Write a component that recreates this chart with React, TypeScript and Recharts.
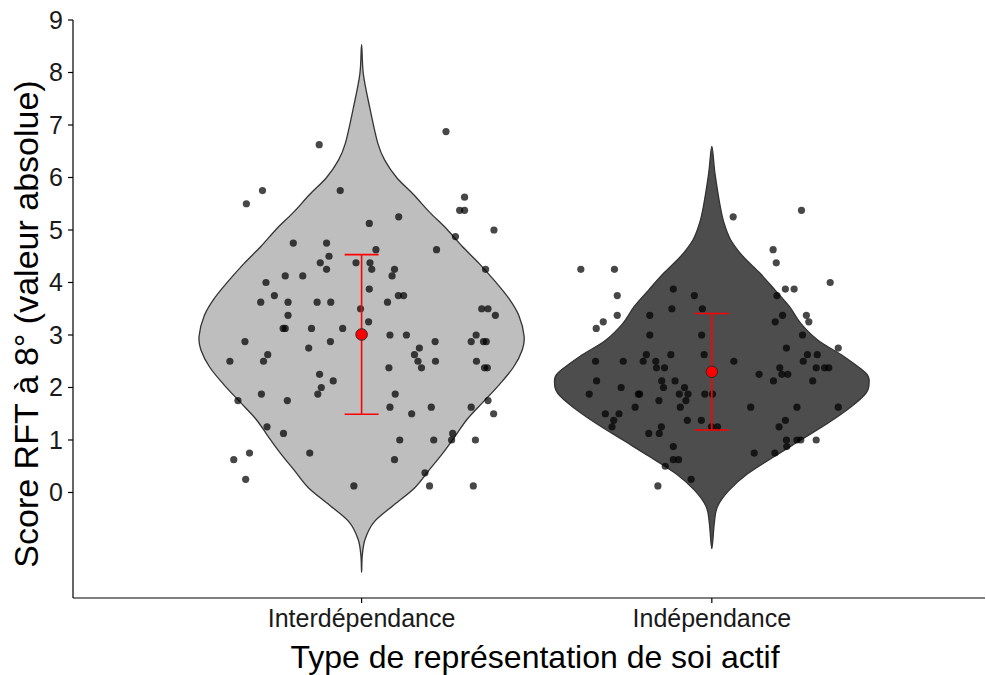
import { ComposedChart, Label, Scatter, XAxis, YAxis } from "recharts";

const categories = ["Interdépendance", "Indépendance"];
const yTicks = [0, 1, 2, 3, 4, 5, 6, 7, 8, 9];

// violin outlines: score levels (top -> bottom) and half width in x units
const interViolinY = [8.53, 7.97, 7.31, 6.66, 6.33, 6.0, 5.67, 5.34, 5.02, 4.69, 4.36, 4.03, 3.7, 3.37, 2.98, 2.72, 2.39, 2.06, 1.73, 1.4, 1.08, 0.75, 0.42, 0.09, -0.24, -0.56, -0.89, -1.2, -1.52];
const interViolinHalf = [0, 0.005, 0.024, 0.046, 0.066, 0.1, 0.149, 0.194, 0.243, 0.287, 0.336, 0.38, 0.42, 0.449, 0.464, 0.459, 0.434, 0.394, 0.348, 0.302, 0.268, 0.232, 0.192, 0.152, 0.092, 0.036, 0.01, 0.002, 0];
const indepViolinY = [6.59, 6.08, 5.45, 5.13, 4.81, 4.49, 4.18, 3.86, 3.54, 3.22, 2.9, 2.59, 2.27, 2.08, 1.89, 1.63, 1.32, 1.0, 0.68, 0.36, 0.04, -0.27, -0.59, -1.07];
const indepViolinHalf = [0, 0.009, 0.024, 0.035, 0.054, 0.09, 0.137, 0.18, 0.222, 0.254, 0.303, 0.377, 0.44, 0.449, 0.44, 0.397, 0.331, 0.254, 0.177, 0.103, 0.049, 0.016, 0.007, 0];

// jittered observations [x position, score]
const interPoints: [number, number][] = [
  [0.879, 6.625], [1.241, 6.875], [0.717, 5.75], [0.671, 5.5], [0.939, 5.75], [1.294, 5.625], [1.28, 5.375], [1.294, 5.375],
  [1.022, 5.125], [1.106, 5.25], [1.378, 5.0], [1.268, 4.875], [0.805, 4.75], [0.9, 4.75], [1.041, 4.625], [1.214, 4.625],
  [0.907, 4.5], [0.882, 4.375], [0.984, 4.375], [1.024, 4.375], [1.029, 4.25], [1.094, 4.25], [1.087, 4.125], [0.9, 4.25],
  [0.727, 4.0], [0.782, 4.125], [0.832, 4.125], [1.354, 4.25], [1.022, 3.875], [0.751, 3.75], [0.712, 3.625], [0.79, 3.625],
  [0.873, 3.625], [0.912, 3.625], [1.074, 3.625], [1.105, 3.75], [1.12, 3.75], [0.997, 3.5], [1.343, 3.5], [1.361, 3.5],
  [1.382, 3.375], [0.79, 3.375], [0.776, 3.125], [0.782, 3.125], [0.857, 3.125], [0.946, 3.125], [1.02, 3.25], [1.081, 3.0],
  [1.128, 3.0], [0.667, 2.875], [0.911, 2.875], [0.849, 2.75], [1.21, 2.875], [1.313, 2.875], [1.327, 3.0], [1.348, 2.875],
  [1.356, 2.875], [1.165, 2.75], [1.151, 2.625], [1.161, 2.5], [1.171, 2.375], [1.211, 2.5], [1.328, 2.5], [1.351, 2.375],
  [1.359, 2.375], [0.624, 2.5], [0.732, 2.625], [0.72, 2.5], [1.078, 2.375], [0.88, 2.25], [0.919, 2.125], [0.885, 2.0],
  [0.875, 1.875], [0.714, 1.875], [0.788, 1.75], [0.647, 1.75], [1.096, 1.875], [1.081, 1.625], [1.143, 1.5], [1.199, 1.625],
  [1.313, 1.625], [1.361, 1.75], [1.377, 1.5], [0.73, 1.25], [0.777, 1.125], [1.109, 1.0], [1.206, 1.0], [1.26, 1.125],
  [1.257, 1.0], [1.325, 1.0], [0.68, 0.75], [0.635, 0.625], [0.852, 0.75], [1.094, 0.625], [0.669, 0.25], [0.978, 0.125],
  [1.181, 0.375], [1.194, 0.125], [1.319, 0.125],
];
const indepPoints: [number, number][] = [
  [2.061, 5.25], [2.256, 5.375], [2.175, 4.625], [2.184, 4.375], [1.626, 4.25], [1.722, 4.25], [1.73, 3.75], [1.73, 3.375],
  [1.69, 3.25], [1.67, 3.125], [1.89, 3.875], [1.95, 3.75], [1.886, 3.5], [1.973, 3.5], [1.823, 3.375], [2.21, 3.875],
  [2.235, 3.875], [2.338, 4.0], [2.186, 3.75], [2.202, 3.375], [2.181, 3.25], [2.27, 3.375], [2.277, 3.25], [1.823, 3.0],
  [1.971, 3.0], [2.259, 3.0], [2.361, 2.75], [2.213, 2.75], [1.813, 2.625], [1.883, 2.625], [1.978, 2.625], [2.273, 2.625],
  [2.301, 2.625], [1.668, 2.5], [1.747, 2.5], [1.804, 2.5], [1.84, 2.5], [2.063, 2.5], [2.261, 2.5], [1.842, 2.375],
  [1.865, 2.375], [2.194, 2.375], [2.298, 2.375], [2.322, 2.375], [2.334, 2.375], [2.135, 2.25], [2.2, 2.25], [2.217, 2.25],
  [1.671, 2.125], [1.857, 2.125], [1.895, 2.125], [2.176, 2.125], [2.288, 2.125], [1.741, 2.0], [1.862, 2.0], [1.922, 2.0],
  [1.65, 1.875], [1.79, 1.875], [1.794, 1.875], [1.907, 1.875], [1.932, 1.875], [1.98, 1.875], [2.002, 1.875], [1.849, 1.75],
  [1.926, 1.75], [1.781, 1.625], [1.91, 1.625], [2.111, 1.625], [2.243, 1.625], [2.361, 1.625], [1.696, 1.5], [1.735, 1.5],
  [1.72, 1.375], [1.715, 1.25], [1.93, 1.375], [1.97, 1.375], [2.21, 1.375], [1.856, 1.25], [2.192, 1.25], [1.999, 1.25],
  [2.016, 1.25], [1.82, 1.125], [1.85, 1.125], [2.213, 1.0], [2.243, 1.0], [2.254, 1.0], [2.298, 1.0], [2.214, 0.875],
  [1.89, 0.875], [2.121, 0.75], [2.18, 0.75], [1.89, 0.625], [1.905, 0.625], [1.867, 0.5], [1.941, 0.25], [1.846, 0.125],
];

const groupMeans = [3.01, 2.3];
const groupErrors = [1.52, 1.11];

const font = "'Liberation Sans', Arial, Helvetica, sans-serif";

function violinOutline(center: number, ys: number[], halves: number[]) {
  const right = ys.map((y, i) => ({ x: center + halves[i], y }));
  const left = ys.slice(1, -1).map((y, i) => ({ x: center - halves[i + 1], y })).reverse();
  return [...right, ...left];
}

// closed catmull-rom through the projected outline points
function smoothClosed(pts: { x: number; y: number }[]) {
  const n = pts.length;
  if (!n) return "";
  let d = `M${pts[0].x},${pts[0].y}`;
  for (let i = 0; i < n; i++) {
    const p0 = pts[(i - 1 + n) % n];
    const p1 = pts[i];
    const p2 = pts[(i + 1) % n];
    const p3 = pts[(i + 2) % n];
    const c1x = p1.x + (p2.x - p0.x) / 6;
    const c1y = p1.y + (p2.y - p0.y) / 6;
    const c2x = p2.x - (p3.x - p1.x) / 6;
    const c2y = p2.y - (p3.y - p1.y) / 6;
    d += ` C${c1x},${c1y} ${c2x},${c2y} ${p2.x},${p2.y}`;
  }
  return d + " Z";
}

const violinLine = (fill: string) => (props: any) => (
  <path d={smoothClosed(props.points || [])} fill={fill} stroke="#333333" strokeWidth={1.3} />
);

const whiskerLine = (props: any) => {
  const pts = props.points || [];
  if (pts.length < 2) return <g />;
  return <line x1={pts[0].x} y1={pts[0].y} x2={pts[1].x} y2={pts[1].y} stroke="#FF0000" strokeWidth={1.6} />;
};

const NoShape = () => <g />;

const Dot = (props: any) => (
  <circle cx={props.cx} cy={props.cy} r={3.6} fill="#000000" fillOpacity={0.72} />
);

const Cap = (props: any) => (
  <line x1={props.cx - 17} x2={props.cx + 17} y1={props.cy} y2={props.cy} stroke="#FF0000" strokeWidth={1.6} />
);

const MeanDot = (props: any) => (
  <circle cx={props.cx} cy={props.cy} r={5.8} fill="#FF0000" stroke="#2b2b2b" strokeWidth={1} />
);

function YTitle({ viewBox }: any) {
  const x = viewBox.x + 38;
  const y = viewBox.y + viewBox.height / 2 + 15;
  return (
    <text x={x} y={y} transform={`rotate(-90 ${x} ${y})`} textAnchor="middle" fontSize={34} fill="#000" fontFamily={font}>
      Score RFT à 8° (valeur absolue)
    </text>
  );
}

function XTitle({ viewBox }: any) {
  const x = viewBox.x + viewBox.width / 2 + 6;
  return (
    <text x={x} y={668} textAnchor="middle" fontSize={32} fill="#000" fontFamily={font}>
      Type de représentation de soi actif
    </text>
  );
}

export default function App() {
  const interOutline = violinOutline(1, interViolinY, interViolinHalf);
  const indepOutline = violinOutline(2, indepViolinY, indepViolinHalf);
  const interData = interPoints.map(([x, y]) => ({ x, y }));
  const indepData = indepPoints.map(([x, y]) => ({ x, y }));
  const meanData = groupMeans.map((m, i) => ({ x: i + 1, y: m }));
  const whiskers = groupMeans.map((m, i) => [
    { x: i + 1, y: m - groupErrors[i] },
    { x: i + 1, y: m + groupErrors[i] },
  ]);

  return (
    <div style={{ position: "absolute", left: 0, top: 0, width: 986, height: 675, background: "#fff" }}>
      <ComposedChart width={986} height={675} margin={{ top: 20, right: 1, bottom: 0, left: 0 }} style={{ fontFamily: font }}>
        <XAxis
          type="number"
          dataKey="x"
          domain={[0.176, 2.78]}
          allowDataOverflow
          ticks={[1, 2]}
          interval={0}
          tickFormatter={(v: number) => categories[v - 1]}
          height={77}
          tickSize={5}
          tickMargin={6}
          axisLine={{ stroke: "#000", strokeWidth: 1.2 }}
          tickLine={{ stroke: "#000", strokeWidth: 1.2 }}
          tick={{ fill: "#1a1a1a", fontSize: 25, fontFamily: font }}
          label={<Label content={XTitle} />}
        />
        <YAxis
          type="number"
          dataKey="y"
          domain={[-2.01, 9]}
          allowDataOverflow
          ticks={yTicks}
          interval={0}
          width={73}
          tickSize={5}
          tickMargin={5}
          axisLine={{ stroke: "#000", strokeWidth: 1.2 }}
          tickLine={{ stroke: "#000", strokeWidth: 1.2 }}
          tick={{ fill: "#1a1a1a", fontSize: 25, fontFamily: font }}
          label={<Label content={YTitle} />}
        />
        <Scatter data={interOutline} line={violinLine("#BEBEBE")} lineType="joint" shape={NoShape} isAnimationActive={false} />
        <Scatter data={indepOutline} line={violinLine("#4D4D4D")} lineType="joint" shape={NoShape} isAnimationActive={false} />
        <Scatter data={interData} shape={Dot} isAnimationActive={false} />
        <Scatter data={indepData} shape={Dot} isAnimationActive={false} />
        {whiskers.map((w, i) => (
          <Scatter key={i} data={w} line={whiskerLine} lineType="joint" shape={Cap} isAnimationActive={false} />
        ))}
        <Scatter data={meanData} shape={MeanDot} isAnimationActive={false} />
      </ComposedChart>
    </div>
  );
}
